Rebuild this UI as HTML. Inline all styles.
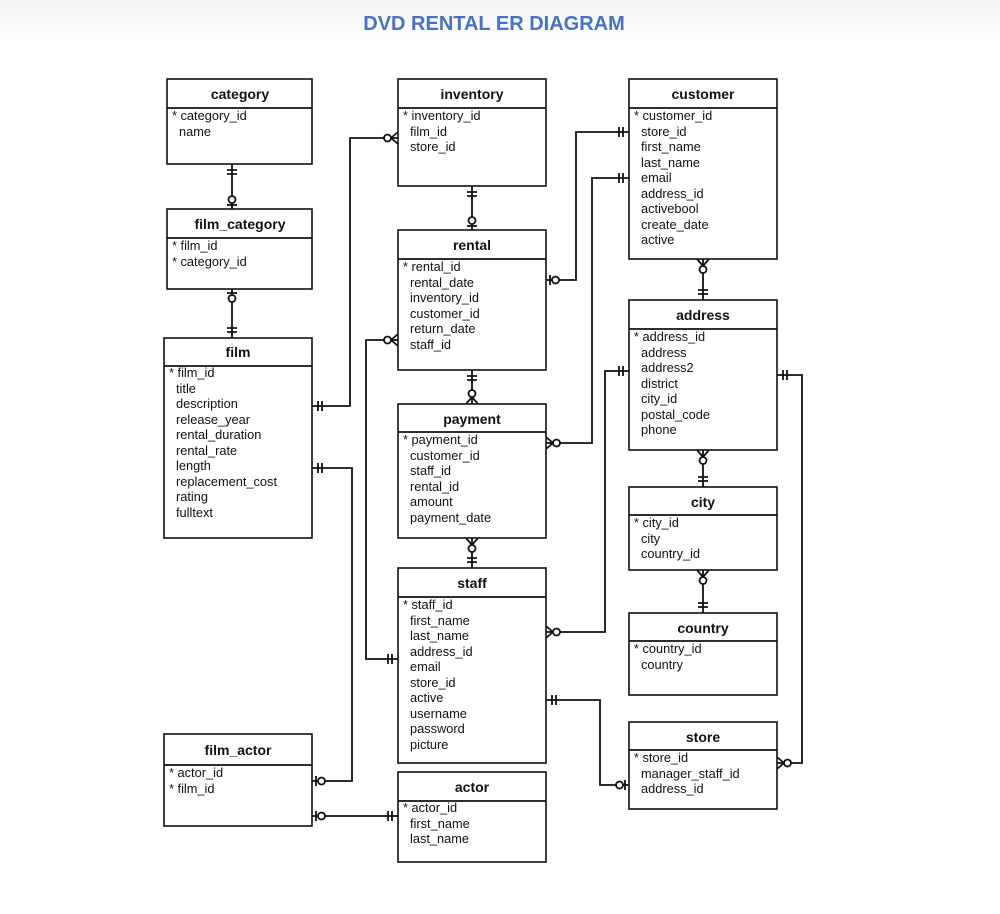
<!DOCTYPE html>
<html><head><meta charset="utf-8"><style>
body{margin:0;background:#fff}
svg{display:block}
.h{font:bold 14px "Liberation Sans",sans-serif;fill:#111;text-anchor:middle}
.f{font:12.8px "Liberation Sans",sans-serif;fill:#111}
.b{fill:#fff;stroke:#111;stroke-width:1.6}
.l{fill:none;stroke:#111;stroke-width:1.8}
</style></head><body>
<svg width="1000" height="914" viewBox="0 0 1000 914" xmlns="http://www.w3.org/2000/svg">
<defs>
<linearGradient id="tg" x1="0" y1="0" x2="0" y2="1"><stop offset="0" stop-color="#f2f2f2"/><stop offset="1" stop-color="#fff"/></linearGradient>
<g id="one" class="l"><path d="M-10,-5V5M-6,-5V5"/></g>
<g id="zo" class="l"><path d="M-4,-5V5"/><circle cx="-9.5" cy="0" r="3.5" fill="#fff"/></g>
<g id="zm" class="l"><path d="M-7,0L0,-6M-7,0L0,6"/><circle cx="-10.5" cy="0" r="3.5" fill="#fff"/></g>
</defs>
<rect width="1000" height="40" fill="url(#tg)"/>
<text x="494" y="30" style="font:bold 20px 'Liberation Sans',sans-serif;fill:#4a72c4" text-anchor="middle">DVD RENTAL ER DIAGRAM</text>

<g class="l">
<path d="M232,164V209M232,289V338"/>
<path d="M312,406H350V138H398"/>
<path d="M312,468H352V781H312"/>
<path d="M312,816H398"/>
<path d="M472,186V230M472,370V404M472,538V568"/>
<path d="M546,280H576V132H629"/>
<path d="M546,443H592V178H629"/>
<path d="M398,340H366V659H398"/>
<path d="M546,632H605V371H629"/>
<path d="M546,700H600V785H629"/>
<path d="M777,375H802V763H777"/>
<path d="M703,259V300M703,450V487M703,570V613"/>
</g>

<g>
<rect class="b" x="167" y="79" width="145" height="85"/><line class="l" x1="167" y1="108" x2="312" y2="108"/>
<text class="h" x="240" y="99">category</text>
<text class="f" x="172" y="120">* category_id</text><text class="f" x="179" y="136">name</text>

<rect class="b" x="398" y="79" width="148" height="107"/><line class="l" x1="398" y1="108" x2="546" y2="108"/>
<text class="h" x="472" y="99">inventory</text>
<text class="f" x="403" y="120">* inventory_id</text><text class="f" x="410" y="136">film_id</text><text class="f" x="410" y="151">store_id</text>

<rect class="b" x="629" y="79" width="148" height="180"/><line class="l" x1="629" y1="108" x2="777" y2="108"/>
<text class="h" x="703" y="99">customer</text>
<text class="f" x="634" y="120">* customer_id</text>
<text class="f" x="641" y="136">store_id</text><text class="f" x="641" y="151">first_name</text><text class="f" x="641" y="167">last_name</text><text class="f" x="641" y="182">email</text><text class="f" x="641" y="198">address_id</text><text class="f" x="641" y="213">activebool</text><text class="f" x="641" y="229">create_date</text><text class="f" x="641" y="244">active</text>

<rect class="b" x="167" y="209" width="145" height="80"/><line class="l" x1="167" y1="238" x2="312" y2="238"/>
<text class="h" x="240" y="229">film_category</text>
<text class="f" x="172" y="250">* film_id</text><text class="f" x="172" y="266">* category_id</text>

<rect class="b" x="398" y="230" width="148" height="140"/><line class="l" x1="398" y1="259" x2="546" y2="259"/>
<text class="h" x="472" y="250">rental</text>
<text class="f" x="403" y="271">* rental_id</text><text class="f" x="410" y="287">rental_date</text><text class="f" x="410" y="302">inventory_id</text><text class="f" x="410" y="318">customer_id</text><text class="f" x="410" y="333">return_date</text><text class="f" x="410" y="349">staff_id</text>

<rect class="b" x="629" y="300" width="148" height="150"/><line class="l" x1="629" y1="329" x2="777" y2="329"/>
<text class="h" x="703" y="320">address</text>
<text class="f" x="634" y="341">* address_id</text><text class="f" x="641" y="357">address</text><text class="f" x="641" y="372">address2</text><text class="f" x="641" y="388">district</text><text class="f" x="641" y="403">city_id</text><text class="f" x="641" y="419">postal_code</text><text class="f" x="641" y="434">phone</text>

<rect class="b" x="164" y="338" width="148" height="200"/><line class="l" x1="164" y1="366" x2="312" y2="366"/>
<text class="h" x="238" y="357">film</text>
<text class="f" x="169" y="377">* film_id</text><text class="f" x="176" y="393">title</text><text class="f" x="176" y="408">description</text><text class="f" x="176" y="424">release_year</text><text class="f" x="176" y="439">rental_duration</text><text class="f" x="176" y="455">rental_rate</text><text class="f" x="176" y="470">length</text><text class="f" x="176" y="486">replacement_cost</text><text class="f" x="176" y="501">rating</text><text class="f" x="176" y="517">fulltext</text>

<rect class="b" x="398" y="404" width="148" height="134"/><line class="l" x1="398" y1="432" x2="546" y2="432"/>
<text class="h" x="472" y="424">payment</text>
<text class="f" x="403" y="444">* payment_id</text><text class="f" x="410" y="460">customer_id</text><text class="f" x="410" y="475">staff_id</text><text class="f" x="410" y="491">rental_id</text><text class="f" x="410" y="506">amount</text><text class="f" x="410" y="522">payment_date</text>

<rect class="b" x="629" y="487" width="148" height="83"/><line class="l" x1="629" y1="515" x2="777" y2="515"/>
<text class="h" x="703" y="507">city</text>
<text class="f" x="634" y="527">* city_id</text><text class="f" x="641" y="543">city</text><text class="f" x="641" y="558">country_id</text>

<rect class="b" x="398" y="568" width="148" height="195"/><line class="l" x1="398" y1="597" x2="546" y2="597"/>
<text class="h" x="472" y="588">staff</text>
<text class="f" x="403" y="609">* staff_id</text><text class="f" x="410" y="625">first_name</text><text class="f" x="410" y="640">last_name</text><text class="f" x="410" y="656">address_id</text><text class="f" x="410" y="671">email</text><text class="f" x="410" y="687">store_id</text><text class="f" x="410" y="702">active</text><text class="f" x="410" y="718">username</text><text class="f" x="410" y="733">password</text><text class="f" x="410" y="749">picture</text>

<rect class="b" x="629" y="613" width="148" height="82"/><line class="l" x1="629" y1="641" x2="777" y2="641"/>
<text class="h" x="703" y="633">country</text>
<text class="f" x="634" y="653">* country_id</text><text class="f" x="641" y="669">country</text>

<rect class="b" x="629" y="722" width="148" height="87"/><line class="l" x1="629" y1="750" x2="777" y2="750"/>
<text class="h" x="703" y="742">store</text>
<text class="f" x="634" y="762">* store_id</text><text class="f" x="641" y="778">manager_staff_id</text><text class="f" x="641" y="793">address_id</text>

<rect class="b" x="164" y="734" width="148" height="92"/><line class="l" x1="164" y1="765" x2="312" y2="765"/>
<text class="h" x="238" y="755">film_actor</text>
<text class="f" x="169" y="777">* actor_id</text><text class="f" x="169" y="793">* film_id</text>

<rect class="b" x="398" y="772" width="148" height="90"/><line class="l" x1="398" y1="801" x2="546" y2="801"/>
<text class="h" x="472" y="792">actor</text>
<text class="f" x="403" y="812">* actor_id</text><text class="f" x="410" y="828">first_name</text><text class="f" x="410" y="843">last_name</text>
</g>

<use href="#one" transform="translate(232,164) rotate(-90)"/>
<use href="#zo" transform="translate(232,209) rotate(90)"/>
<use href="#zo" transform="translate(232,289) rotate(-90)"/>
<use href="#one" transform="translate(232,338) rotate(90)"/>
<use href="#one" transform="translate(312,406) rotate(180)"/>
<use href="#one" transform="translate(312,468) rotate(180)"/>
<use href="#zm" transform="translate(398,138)"/>
<use href="#zo" transform="translate(312,781) rotate(180)"/>
<use href="#zo" transform="translate(312,816) rotate(180)"/>
<use href="#one" transform="translate(398,816)"/>
<use href="#one" transform="translate(472,186) rotate(-90)"/>
<use href="#zo" transform="translate(472,230) rotate(90)"/>
<use href="#zo" transform="translate(546,280) rotate(180)"/>
<use href="#one" transform="translate(629,132)"/>
<use href="#zm" transform="translate(546,443) rotate(180)"/>
<use href="#one" transform="translate(629,178)"/>
<use href="#one" transform="translate(472,370) rotate(-90)"/>
<use href="#zm" transform="translate(472,404) rotate(90)"/>
<use href="#zm" transform="translate(398,340)"/>
<use href="#one" transform="translate(398,659)"/>
<use href="#zm" transform="translate(472,538) rotate(-90)"/>
<use href="#one" transform="translate(472,568) rotate(90)"/>
<use href="#zm" transform="translate(546,632) rotate(180)"/>
<use href="#one" transform="translate(629,371)"/>
<use href="#one" transform="translate(546,700) rotate(180)"/>
<use href="#zo" transform="translate(629,785)"/>
<use href="#one" transform="translate(777,375) rotate(180)"/>
<use href="#zm" transform="translate(777,763) rotate(180)"/>
<use href="#zm" transform="translate(703,259) rotate(-90)"/>
<use href="#one" transform="translate(703,300) rotate(90)"/>
<use href="#zm" transform="translate(703,450) rotate(-90)"/>
<use href="#one" transform="translate(703,487) rotate(90)"/>
<use href="#zm" transform="translate(703,570) rotate(-90)"/>
<use href="#one" transform="translate(703,613) rotate(90)"/>
</svg>
</body></html>
